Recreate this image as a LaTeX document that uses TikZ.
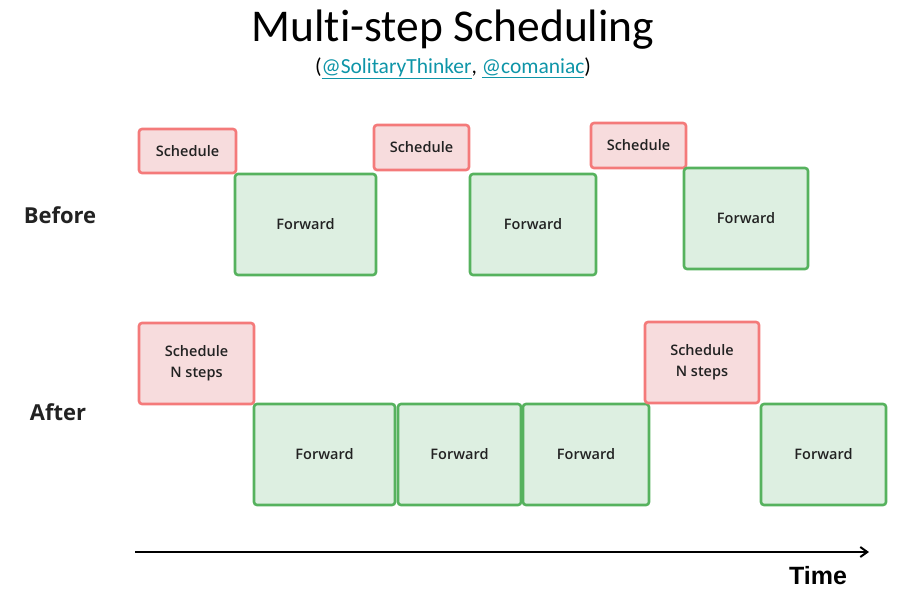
\documentclass[tikz,border=0pt]{standalone}
\usepackage{fontspec}
\setmainfont{Carlito}[Ligatures=NoCommon]
\newfontfamily\boxfont{Open Sans}[UprightFont=* Semibold,BoldFont=* Bold]
\newfontfamily\timefont{Liberation Sans}
\usetikzlibrary{arrows.meta}
\definecolor{schedborder}{HTML}{F47A7A}
\definecolor{schedfill}{HTML}{F7DCDD}
\definecolor{fwdborder}{HTML}{56B25E}
\definecolor{fwdfill}{HTML}{DDEFE1}
\definecolor{linkteal}{HTML}{0E95A8}
\definecolor{txt}{HTML}{222222}
\tikzset{
  blk/.style={draw, line width=2.6pt, rounded corners=3pt, inner sep=0pt, align=center,
    text=txt, font=\boxfont\fontsize{14.5}{21}\selectfont},
  sched/.style={blk, draw=schedborder, fill=schedfill},
  fwd/.style={blk, draw=fwdborder, fill=fwdfill},
  rowlabel/.style={font=\boxfont\bfseries\fontsize{22}{26}\selectfont, text=txt},
}
% #1 style, #2 name, #3 x1, #4 y1, #5 x2, #6 y2, #7 text
\newcommand\blkat[7]{\node[#1, minimum width={(#5-#3)*1pt}, minimum height={(#6-#4)*1pt}]
  (#2) at ({(#3+#5)/2},{(#4+#6)/2}) {#7};}
\begin{document}
\begin{tikzpicture}[x=1pt,y=-1pt]
\useasboundingbox (0,0) rectangle (901,592);
\node (title) at (453,30) {\fontsize{45.5}{48}\selectfont Multi-step Scheduling};
\node (sub) at (453,68) {\fontsize{21.5}{24}\selectfont (\textcolor{linkteal}{\underline{@SolitaryThinker}}, \textcolor{linkteal}{\underline{@comaniac}})};
\node[rowlabel] (before) at (60,215) {Before};
\node[rowlabel] (after) at (58,412) {After};
% Before row
\blkat{sched}{s1}{139}{129}{236}{173}{Schedule}
\blkat{fwd}{f1}{235}{174}{376}{275}{Forward}
\blkat{sched}{s2}{374}{125}{469}{170}{Schedule}
\blkat{fwd}{f2}{470}{174}{596}{275}{Forward}
\blkat{sched}{s3}{591}{123}{686}{168}{Schedule}
\blkat{fwd}{f3}{684}{168}{808}{269}{Forward}
% After row
\blkat{sched}{n1}{139}{323}{254}{404}{Schedule\\N steps}
\blkat{fwd}{g1}{254}{404}{395}{505}{Forward}
\blkat{fwd}{g2}{398}{404}{521}{505}{Forward}
\blkat{fwd}{g3}{523}{404}{649}{505}{Forward}
\blkat{sched}{n2}{645}{322}{759}{403}{Schedule\\N steps}
\blkat{fwd}{g4}{761}{404}{886}{505}{Forward}
% time axis
\coordinate (t0) at (135,552);
\coordinate (t1) at (869,552);
\draw[line width=2pt, -{Straight Barb[length=7pt,width=10pt]}] (t0) -- (t1);
\node[font=\timefont\bfseries\fontsize{25}{28}\selectfont] (time) at (818,576) {Time};
\end{tikzpicture}
\end{document}
